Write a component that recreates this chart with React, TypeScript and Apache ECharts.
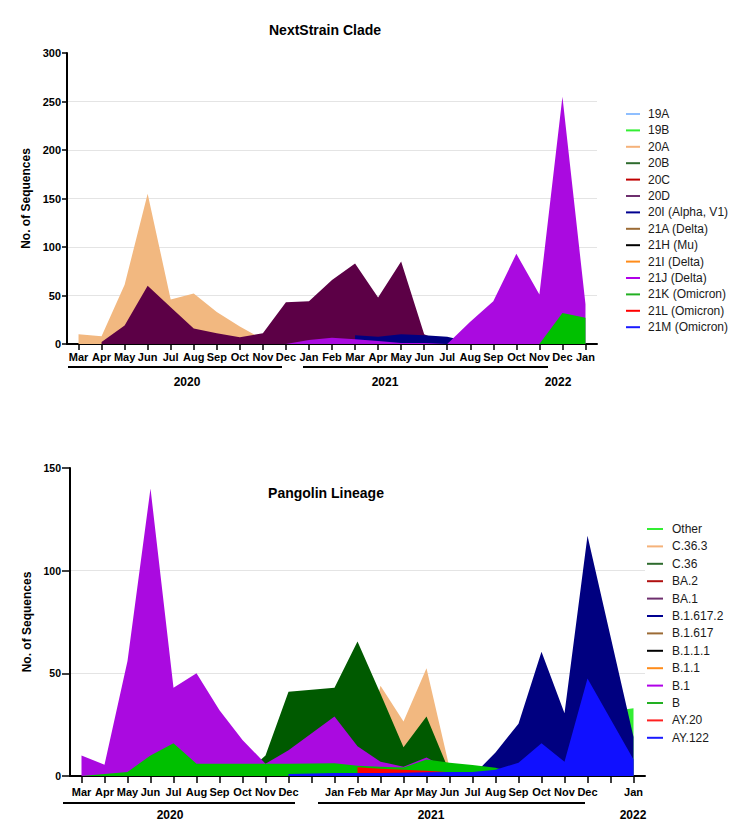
import React, { useEffect, useRef } from 'react';
import * as echarts from 'echarts';

// ---------- Top chart: NextStrain Clade ----------
const topMonths = ['Mar', 'Apr', 'May', 'Jun', 'Jul', 'Aug', 'Sep', 'Oct', 'Nov', 'Dec', 'Jan', 'Feb', 'Mar', 'Apr', 'May', 'Jun', 'Jul', 'Aug', 'Sep', 'Oct', 'Nov', 'Dec', 'Jan'];
const topYTicks = [0, 300, 50];

const clade19A: (number | null)[] = [];
const clade19B: (number | null)[] = [];
const clade20A = [10, 8, 61, 155, 46, 52, 33, 18, 5, 0, null, null, null, null, null, null, null, null, null, null, null, null, null];
const clade20B: (number | null)[] = [];
const clade20C: (number | null)[] = [];
const clade20D = [null, 2, 19, 60, 38, 16, 11, 7, 11, 43, 44, 66, 83, 48, 85, 10, 0, null, null, null, null, null, null];
const clade20I = [null, null, null, null, null, null, null, null, null, null, null, null, 9, 7.5, 10, 9, 7.5, 2, null, null, null, null, null];
const clade21A: (number | null)[] = [];
const clade21H: (number | null)[] = [];
const clade21I: (number | null)[] = [];
const clade21J = [null, null, null, null, null, null, null, null, null, 0, 4, 6.5, 5, 3, 1, 1, 0, 23, 44, 93, 51, 255, 41];
const clade21K = [null, null, null, null, null, null, null, null, null, null, null, null, null, null, null, null, null, null, null, null, 0, 32, 27];
const clade21L: (number | null)[] = [];
const clade21M: (number | null)[] = [];

const topNames = ['19A', '19B', '20A', '20B', '20C', '20D', '20I (Alpha, V1)', '21A (Delta)', '21H (Mu)', '21I (Delta)', '21J (Delta)', '21K (Omicron)', '21L (Omicron)', '21M (Omicron)'];
const topData = [clade19A, clade19B, clade20A, clade20B, clade20C, clade20D, clade20I, clade21A, clade21H, clade21I, clade21J, clade21K, clade21L, clade21M];
const topFill = ['#8fbfff', '#33ee33', '#f2b880', '#2e6b2e', '#c00000', '#5c0046', '#000080', '#9c6b35', '#000000', '#ff8c1a', '#aa0ae0', '#00c000', '#ff0000', '#1a1aff'];
const topLegendColors = ['#8fbfff', '#33ee33', '#f5b27a', '#2e6b2e', '#c00000', '#6e2f6e', '#000090', '#9c6b35', '#000000', '#ff8c1a', '#b000e8', '#22b022', '#ff0000', '#1a1aff'];

// ---------- Bottom chart: Pangolin Lineage ----------
const bottomMonths = ['Mar', 'Apr', 'May', 'Jun', 'Jul', 'Aug', 'Sep', 'Oct', 'Nov', 'Dec', '', 'Jan', 'Feb', 'Mar', 'Apr', 'May', 'Jun', 'Jul', 'Aug', 'Sep', 'Oct', 'Nov', 'Dec', '', 'Jan'];
const bottomYTicks = [0, 150, 50];

const linOther = [null, null, null, null, null, null, null, null, null, null, null, null, null, null, null, null, null, null, null, null, 0, 0, 30, null, 33];
const linC363 = [null, null, null, null, null, null, null, null, null, null, null, null, 0, 44, 26.5, 52.5, 4, 0, null, null, null, null, null, null, null];
const linC36 = [null, null, null, null, null, null, null, 0, 10, 41, null, 43, 65.5, 40, 14, 29, 2, 0, null, null, null, null, null, null, null];
const linBA2: (number | null)[] = [];
const linBA1: (number | null)[] = [];
const linB16172 = [null, null, null, null, null, null, null, null, null, null, null, null, null, null, null, null, null, 0, 11.5, 25.5, 60.5, 30.5, 117, null, 19];
const linB1617: (number | null)[] = [];
const linB111: (number | null)[] = [];
const linB11: (number | null)[] = [];
const linB1 = [10, 5.5, 56, 140, 43, 50, 32, 17.5, 6, 12.5, null, 29, 14.5, 7, 4.5, 9, 3, 0, null, null, null, null, null, null, null];
const linB = [0, 1, 2, 10, 16, 6, 6, 6, 6, 6, null, 6.2, 5, 4.5, 4.2, 8, 6.5, 5.4, 4, 1, null, null, null, null, null];
const linAY20 = [null, null, null, null, null, null, null, null, null, null, null, null, 4.3, 3.5, 3, 2.5, 1.8, null, null, null, null, null, null, null, null];
const linAY122 = [null, null, null, null, null, null, null, null, null, 1, null, 1.5, 1.5, 1.5, 1.6, 1.8, 2, 2, 3, 6.5, 16, 7, 47.5, null, 8];

const bottomNames = ['Other', 'C.36.3', 'C.36', 'BA.2', 'BA.1', 'B.1.617.2', 'B.1.617', 'B.1.1.1', 'B.1.1', 'B.1', 'B', 'AY.20', 'AY.122'];
const bottomData = [linOther, linC363, linC36, linBA2, linBA1, linB16172, linB1617, linB111, linB11, linB1, linB, linAY20, linAY122];
const bottomFill = ['#33ee33', '#f2b880', '#005a00', '#a01010', '#6e2f6e', '#000080', '#9c6b35', '#000000', '#ff8c1a', '#aa0ae0', '#00c000', '#ff0000', '#1010ff'];
const bottomLegendColors = ['#33ee33', '#f5b27a', '#2e6b2e', '#b01010', '#6e2f6e', '#000090', '#9c6b35', '#000000', '#ff8c1a', '#b000e8', '#22b022', '#ff2020', '#1a1aff'];

const FONT = "'Liberation Sans', Arial, Helvetica, sans-serif";

function areaSeries(name: string, data: (number | null)[], color: string, idx: number) {
  return {
    name,
    type: 'line',
    xAxisIndex: idx,
    yAxisIndex: idx,
    data,
    symbol: 'none',
    showSymbol: false,
    connectNulls: true,
    silent: true,
    lineStyle: { width: 0, color },
    itemStyle: { color },
    areaStyle: { color, opacity: 1 },
    emphasis: { disabled: true },
  };
}

function xAxis(idx: number, data: string[], labelMargin: number, tickLen: number) {
  return {
    type: 'category',
    gridIndex: idx,
    data,
    boundaryGap: true,
    axisLine: { show: true, lineStyle: { color: '#000', width: 2 } },
    axisTick: { show: true, interval: 0, alignWithLabel: true, length: tickLen, lineStyle: { color: '#000', width: 1.5 } },
    axisLabel: { interval: 0, margin: labelMargin, fontSize: 11, fontWeight: 'bold', color: '#000', fontFamily: FONT },
    splitLine: { show: false },
  };
}

function yAxis(idx: number, ticks: number[], nameGap: number, labelSize: number, tickLen: number, labelMargin: number) {
  return {
    type: 'value',
    gridIndex: idx,
    min: ticks[0],
    max: ticks[1],
    interval: ticks[2],
    name: 'No. of Sequences',
    nameLocation: 'middle',
    nameGap,
    nameTextStyle: { fontSize: 12, fontWeight: 'bold', color: '#000', fontFamily: FONT },
    axisLine: { show: true, lineStyle: { color: '#000', width: 2 } },
    axisTick: { show: true, length: tickLen, lineStyle: { color: '#000', width: 1.5 } },
    axisLabel: { margin: labelMargin, fontSize: labelSize, fontWeight: 'bold', color: '#000', fontFamily: FONT },
    splitLine: { show: true, showMinLine: false, showMaxLine: false, lineStyle: { color: '#e4e4e4', width: 1 } },
  };
}

function legend(names: string[], colors: string[], left: number, top: number, iw: number, gap: number, pad: number) {
  return {
    orient: 'vertical',
    left,
    top,
    padding: 0,
    itemWidth: iw,
    itemHeight: 2,
    itemGap: gap,
    icon: 'rect',
    selectedMode: false,
    textStyle: { fontSize: 12, color: '#1a1a1a', fontFamily: FONT, lineHeight: 12, padding: [0, 0, 0, pad] },
    data: names.map((n, i) => ({ name: n, itemStyle: { color: colors[i] } })),
  };
}

function txt(text: string, x: number, y: number, size: number) {
  return {
    type: 'text',
    x,
    y,
    silent: true,
    style: { text, fill: '#000', font: `bold ${size}px ${FONT}`, textAlign: 'center', textVerticalAlign: 'middle' },
  };
}

function seg(x1: number, x2: number, y: number) {
  return { type: 'line', silent: true, shape: { x1, y1: y, x2, y2: y }, style: { stroke: '#000', lineWidth: 2 } };
}

export default function App() {
  const ref = useRef<HTMLDivElement>(null);
  useEffect(() => {
    document.body.style.margin = '0';
    if (!ref.current) return;
    const chart = echarts.init(ref.current, undefined, { renderer: 'svg' });
    const series: any[] = [];
    topNames.forEach((n, i) => series.push(areaSeries(n, topData[i], topFill[i], 0)));
    bottomNames.forEach((n, i) => series.push(areaSeries(n, bottomData[i], bottomFill[i], 1)));
    chart.setOption({
      animation: false,
      backgroundColor: '#fff',
      textStyle: { fontFamily: FONT },
      grid: [
        { left: 67, top: 53, width: 530, height: 291 },
        { left: 70, top: 468, width: 575, height: 308 },
      ],
      xAxis: [xAxis(0, topMonths, 7, 6), xAxis(1, bottomMonths, 10, 7)],
      yAxis: [yAxis(0, topYTicks, 29, 11, 5, 6), yAxis(1, bottomYTicks, 31, 10.5, 8, 9)],
      legend: [
        legend(topNames, topLegendColors, 626, 108, 14, 4.4, 3),
        legend(bottomNames, bottomLegendColors, 647, 523, 16, 5.4, 4),
      ],
      graphic: [
        txt('NextStrain Clade', 325, 30, 14),
        txt('Pangolin Lineage', 326, 493, 14),
        seg(68, 282, 367),
        seg(303, 548, 367),
        txt('2020', 187, 382, 12),
        txt('2021', 385, 382, 12),
        txt('2022', 558, 382, 12),
        seg(63, 295, 803),
        seg(318, 585, 803),
        txt('2020', 170, 815, 12),
        txt('2021', 431, 815, 12),
        txt('2022', 633, 815, 12),
      ],
      series,
    });
    return () => chart.dispose();
  }, []);
  return <div ref={ref} style={{ position: 'absolute', left: 0, top: 0, width: 744, height: 834 }} />;
}
